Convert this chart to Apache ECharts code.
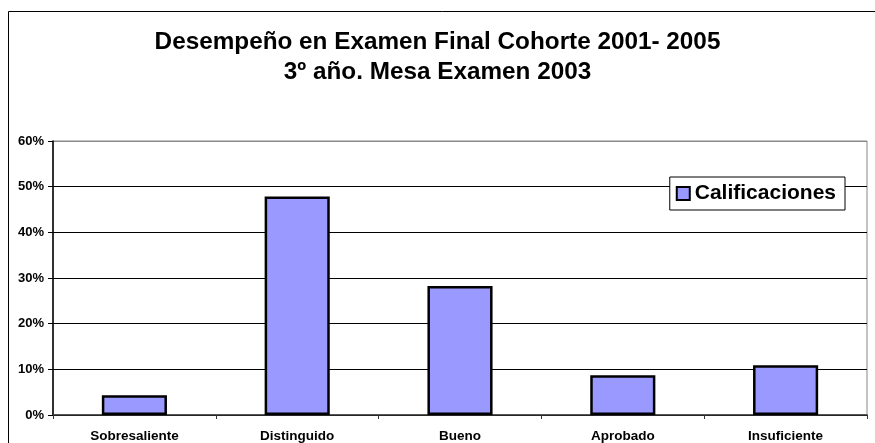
<!DOCTYPE html>
<html>
<head>
<meta charset="utf-8">
<script src="https://cdn.jsdelivr.net/npm/echarts@6/dist/echarts.min.js"></script>
<style>
  html, body { margin: 0; padding: 0; background: #fff; }
  #chart { width: 875px; height: 443px; }
</style>
</head>
<body>
<div id="chart"></div>
<script>
// Exam grade categories and the share of students in each
const categories = ['Sobresaliente', 'Distinguido', 'Bueno', 'Aprobado', 'Insuficiente'];
const shares = [0.0435, 0.4783, 0.2826, 0.0870, 0.1087];
const seriesName = 'Calificaciones';
const titleLines = ['Desempeño en Examen Final Cohorte 2001- 2005', '3º año. Mesa Examen 2003'];

const FONT = '"Liberation Sans", Arial, sans-serif';
const chart = echarts.init(document.getElementById('chart'), null, { renderer: 'canvas' });

chart.setOption({
  animation: false,
  backgroundColor: '#fff',
  textStyle: { fontFamily: FONT },
  graphic: [{
    type: 'rect',
    shape: { x: 8.5, y: 11.5, width: 900, height: 500 },
    style: { fill: 'none', stroke: '#000', lineWidth: 1 },
    silent: true,
    z: 0
  }],
  title: {
    text: titleLines.join('\n'),
    left: 'center',
    top: 22,
    textStyle: { fontFamily: FONT, fontSize: 24.3, fontWeight: 'bold', color: '#000', lineHeight: 30 }
  },
  legend: {
    data: [seriesName],
    right: 30,
    top: 177,
    orient: 'vertical',
    backgroundColor: '#fff',
    borderColor: '#000',
    borderWidth: 1,
    borderRadius: 0,
    padding: [6, 9, 6, 6],
    itemWidth: 13,
    itemHeight: 13,
    itemGap: 0,
    icon: 'rect',
    textStyle: { fontFamily: FONT, fontSize: 21, fontWeight: 'bold', color: '#000' }
  },
  grid: {
    left: 53, right: 8, top: 141, bottom: 28,
    show: true, borderColor: '#888', borderWidth: 1, backgroundColor: '#fff'
  },
  xAxis: {
    type: 'category',
    data: categories,
    boundaryGap: true,
    axisLine: { lineStyle: { color: '#333', width: 1.5 } },
    axisTick: { show: true, length: 4, lineStyle: { color: '#333' } },
    axisLabel: { fontFamily: FONT, fontSize: 13.5, fontWeight: 'bold', color: '#000', margin: 14 }
  },
  yAxis: {
    type: 'value',
    min: 0,
    max: 0.6,
    interval: 0.1,
    axisLine: { show: true, lineStyle: { color: '#000', width: 1.5 } },
    axisTick: { show: true, length: 5, lineStyle: { color: '#000' } },
    axisLabel: {
      fontFamily: FONT, fontSize: 13, fontWeight: 'bold', color: '#000', margin: 9,
      formatter: v => Math.round(v * 100) + '%'
    },
    splitLine: { show: true, lineStyle: { color: ['#000', '#000', '#000', '#000', '#000', '#000', '#888'], width: 1 } }
  },
  series: [{
    name: seriesName,
    type: 'bar',
    data: shares,
    barWidth: '40%',
    itemStyle: { color: '#9999FF', borderColor: '#000', borderWidth: 2.5 }
  }]
});
</script>
</body>
</html>
